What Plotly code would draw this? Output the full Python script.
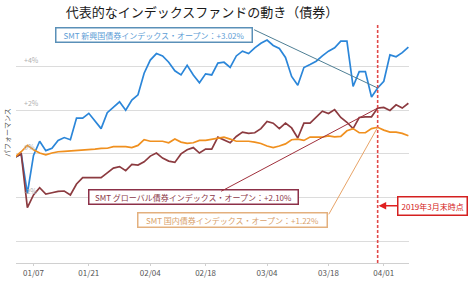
import plotly.graph_objects as go

# ---------------- DATA ----------------
dates = ["12/27", "12/28",
         "01/04", "01/07", "01/08", "01/09", "01/10", "01/11", "01/15", "01/16", "01/17", "01/18",
         "01/21", "01/22", "01/23", "01/24", "01/25", "01/28", "01/29", "01/30", "01/31",
         "02/01", "02/04", "02/05", "02/06", "02/07", "02/08", "02/12", "02/13", "02/14", "02/15",
         "02/18", "02/19", "02/20", "02/21", "02/22", "02/25", "02/26", "02/27", "02/28",
         "03/01", "03/04", "03/05", "03/06", "03/07", "03/08", "03/11", "03/12", "03/13", "03/14",
         "03/15", "03/18", "03/19", "03/20", "03/22", "03/25", "03/26", "03/27", "03/28", "03/29",
         "04/01", "04/02", "04/03", "04/04", "04/05"]

emerging = [-0.15, 0.00, -1.81, -0.07, 0.58, 0.15, 0.26, 0.62, 0.75, 0.65, 1.64, 1.64,
            1.86, 1.52, 1.16, 1.89, 2.13, 2.39, 2.00, 2.47, 2.71,
            3.70, 4.30, 4.60, 4.49, 4.20, 3.81, 3.62, 4.06, 3.62, 3.26,
            3.67, 3.62, 4.16, 4.20, 3.96, 4.49, 4.71, 4.60, 4.86,
            5.07, 5.22, 4.97, 4.83, 4.42, 3.55, 3.15, 3.96, 4.10, 4.25,
            4.49, 4.71, 4.86, 5.17, 5.17, 3.09, 3.77, 3.77, 2.61, 3.02,
            3.33, 4.54, 4.45, 4.64, 4.89]

global_bond = [-0.15, 0.00, -2.46, -1.88, -1.55, -1.84, -1.78, -1.72, -1.70, -1.88, -1.38, -1.09,
               -1.09, -1.09, -1.09, -0.87, -0.65, -0.58, -0.77, -0.48, -0.51,
               -0.36, -0.10, 0.04, -0.19, -0.33, -0.39, 0.00, 0.19, 0.29, 0.04,
               0.22, 0.22, 0.77, 0.65, 0.51, 0.80, 1.00, 0.94, 0.97,
               1.16, 1.49, 1.41, 1.16, 1.41, 1.19, 0.73, 1.41, 1.41, 1.67,
               1.96, 1.85, 2.03, 1.67, 1.45, 1.16, 1.67, 1.70, 1.70, 2.10,
               2.13, 1.99, 2.25, 2.10, 2.32]

domestic = [-0.14, 0.10, 0.39, 0.19, 0.04, -0.04, 0.04, 0.10, 0.12, 0.14, 0.14, 0.17,
            0.17, 0.22, 0.25, 0.26, 0.33, 0.33, 0.33, 0.29, 0.39,
            0.65, 0.58, 0.58, 0.58, 0.51, 0.68, 0.54, 0.48, 0.51, 0.62,
            0.62, 0.68, 0.71, 0.77, 0.68, 0.58, 0.58, 0.58, 0.54,
            0.48, 0.36, 0.29, 0.36, 0.46, 0.65, 0.68, 0.62, 0.77, 0.77,
            0.77, 0.83, 0.78, 0.80, 1.06, 1.16, 0.97, 0.97, 1.16, 1.22,
            1.09, 1.00, 1.00, 0.94, 0.83]

x_tickvals = ["01/07", "01/21", "02/04", "02/18", "03/04", "03/18", "04/01"]
y_tickvals = [4, 2, 0, -2]
y_ticktext = ["+4%", "+2%", "0%", "-2%"]
y_range = [-5, 6]
marker_date = "03/29"
marker_idx = dates.index(marker_date)

names = ["SMT 新興国債券インデックス・オープン", "SMT グローバル債券インデックス・オープン",
         "SMT 国内債券インデックス・オープン"]
series = [emerging, global_bond, domestic]
colors = ["#2b86d9", "#8c3b40", "#f0901f"]

FONT = "Noto Sans CJK JP"

fig = go.Figure()
for name, vals, col in zip(names, series, colors):
    fig.add_trace(go.Scatter(x=dates, y=vals, mode="lines", name=name,
                             line=dict(color=col, width=1.7), showlegend=False))

# red dashed vertical line (end of March)
fig.add_trace(go.Scatter(x=[marker_date, marker_date], y=y_range, mode="lines",
                         line=dict(color="#e04848", width=1.6, dash="3px,2px"),
                         showlegend=False, hoverinfo="skip"))

L, R, T, B = 16, 65, 23, 14
W, H = 474, 290
pw, ph = W - L - R, H - T - B


def px(xp):
    return (xp - L) / pw


def py(yp):
    return (H - B - yp) / ph


annotations = []

# callout boxes
boxes = [
    (names[0], emerging[marker_idx], 55, 27, 198, 16, "#5a90b8", "#5e9ed6"),
    (names[1], global_bond[marker_idx], 88, 198, 211, 16, "#8c3048", "#8c3a4a"),
    (names[2], domestic[marker_idx], 137, 222, 191, 16, "#e3b07e", "#d9a26c"),
]
for name, val, bx, by, bw, bh, bcol, tcol in boxes:
    annotations.append(dict(
        text=f"{name}：+{val:.2f}%", xref="paper", yref="paper",
        x=px(bx), y=py(by), xanchor="left", yanchor="top",
        showarrow=False, font=dict(family=FONT, size=8, color=tcol),
        bordercolor=bcol, borderwidth=1.5, borderpad=1, bgcolor="white",
        width=bw - 5, height=bh - 5, align="center"))

# connector lines from boxes to the end-of-March points
connectors = [
    (emerging[marker_idx], -125, -59, "#4f7f95"),
    (global_bond[marker_idx], -158, 84, "#a0303c"),
    (domestic[marker_idx], -50, 89, "#e8a468"),
]
for val, ax, ay, col in connectors:
    annotations.append(dict(
        text=" ", x=marker_date, y=val, xref="x", yref="y",
        showarrow=True, arrowhead=0, arrowwidth=1, arrowcolor=col,
        ax=ax, ay=ay, standoff=0, font=dict(size=1)))

# red label box
annotations.append(dict(
    text="2019年3月末時点", x=marker_date, y=-2.38, xref="x", yref="y",
    showarrow=True, arrowhead=2, arrowsize=1, arrowwidth=1.5, arrowcolor="#e02020",
    ax=55, ay=0, standoff=1,
    font=dict(family=FONT, size=8, color="#d42020"),
    bordercolor="#d42020", borderwidth=1.5, borderpad=3, bgcolor="white"))

# y tick labels inside the plot
for v, t in zip(y_tickvals, y_ticktext):
    annotations.append(dict(
        text=t, x=px(22), y=v, xref="paper", yref="y", xanchor="left",
        yanchor="bottom", yshift=0, showarrow=False,
        font=dict(family=FONT, size=7, color="#b0b0b0")))

# y axis title
annotations.append(dict(
    text="パフォーマンス", x=px(7), y=py(139), xref="paper", yref="paper",
    textangle=-90, showarrow=False, xanchor="center", yanchor="middle",
    font=dict(family=FONT, size=7, color="#555555")))

fig.update_layout(
    width=W, height=H,
    margin=dict(l=L, r=R, t=T, b=B),
    paper_bgcolor="white", plot_bgcolor="white",
    title=dict(text="代表的なインデックスファンドの動き（債券）",
               x=202 / W, xanchor="center", y=1 - 12.5 / H, yanchor="middle",
               font=dict(family=FONT, size=13, color="#1a1a1a")),
    xaxis=dict(type="category", range=[0.15, 64.1], tickmode="array",
               tickvals=x_tickvals, ticktext=x_tickvals,
               showgrid=False, showline=True, linecolor="#d0d0d0", linewidth=1,
               ticks="outside", ticklen=2, tickcolor="#d0d0d0",
               tickfont=dict(family=FONT, size=8, color="#555555")),
    yaxis=dict(range=y_range, tickmode="array", tickvals=[-4, -2, 0, 2, 4, 6],
               showticklabels=False, showgrid=True, gridcolor="#dcdcdc",
               gridwidth=1, zeroline=False, showline=False),
    annotations=annotations,
    font=dict(family=FONT),
)

fig.write_html("out.html")
